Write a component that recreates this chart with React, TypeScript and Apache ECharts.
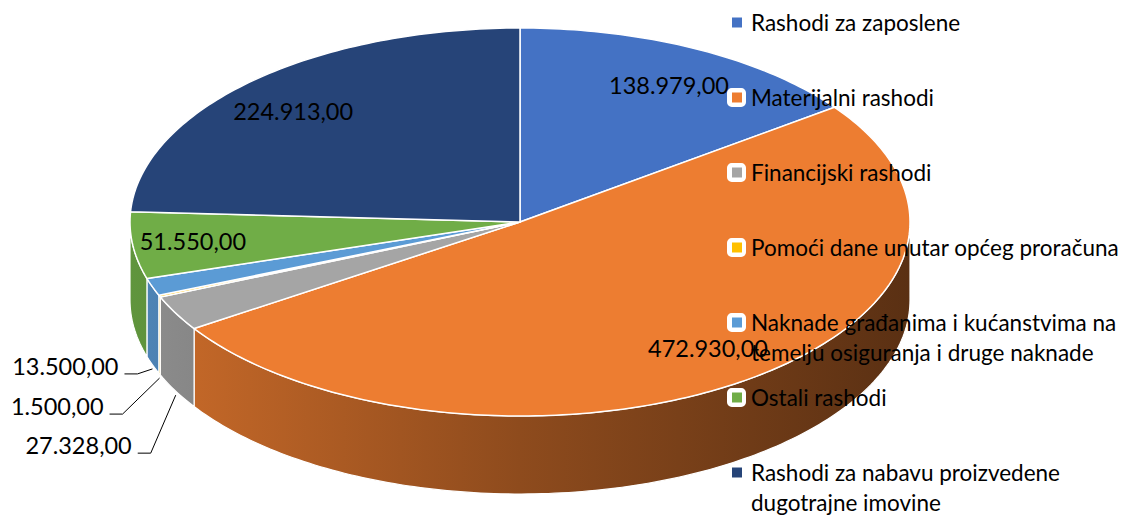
import React, { useEffect, useRef } from 'react';
import * as echarts from 'echarts';

// ---- data ----
const CATEGORIES = [
  'Rashodi za zaposlene',
  'Materijalni rashodi',
  'Financijski rashodi',
  'Pomoći dane unutar općeg proračuna',
  'Naknade građanima i kućanstvima na temelju osiguranja i druge naknade',
  'Ostali rashodi',
  'Rashodi za nabavu proizvedene dugotrajne imovine',
];
const VALUES = [138979, 472930, 27328, 1500, 13500, 51550, 224913];
const COLORS = ['#4472C4', '#ED7D31', '#A5A5A5', '#FFC000', '#5B9BD5', '#70AD47', '#264478'];
// legend display lines (wrapped as in the original)
const LEGEND_LINES = [
  ['Rashodi za zaposlene'],
  ['Materijalni rashodi'],
  ['Financijski rashodi'],
  ['Pomoći dane unutar općeg proračuna'],
  ['Naknade građanima i kućanstvima na', 'temelju osiguranja i druge naknade'],
  ['Ostali rashodi'],
  ['Rashodi za nabavu proizvedene', 'dugotrajne imovine'],
];

// ---- layout ----
const CX = 520, CY = 222, RX = 390, RY = 194, DEPTH = 78;
const LABEL_RX = 0.845, LABEL_RY = 0.79;
const SMALL_SHARE = 0.04;
// outside label placement relative to leader anchor [dx of text right edge, dy of text centre]
const OUTSIDE_OFFSETS: Record<number, [number, number]> = { 2: [-44, 50], 3: [-56, 28], 4: [-34, -3] };
const FONT = 'Lato, Carlito, Calibri, sans-serif';
const LEGEND_FONT = 22.5;
const LABEL_FONT = 23.5;
const LEGEND_Y0 = 22.5, LEGEND_STEP = 75, LINE_H = 30;

const TOTAL = VALUES.reduce((a, b) => a + b, 0);
const STARTS = VALUES.map((_, i) => VALUES.slice(0, i).reduce((a, b) => a + b, 0));

const fmt = (v: number) => v.toString().replace(/\B(?=(\d{3})+(?!\d))/g, '.') + ',00';

function shade(hex: string, f: number) {
  const n = parseInt(hex.slice(1), 16);
  const r = Math.round(((n >> 16) & 255) * f);
  const g = Math.round(((n >> 8) & 255) * f);
  const b = Math.round((n & 255) * f);
  return `rgb(${r},${g},${b})`;
}

function arcPts(a0: number, a1: number, dy: number) {
  const n = Math.max(1, Math.ceil(a1 - a0));
  const pts: number[][] = [];
  for (let k = 0; k <= n; k++) {
    const t = ((a0 + ((a1 - a0) * k) / n) * Math.PI) / 180;
    pts.push([CX + RX * Math.sin(t), CY - RY * Math.cos(t) + dy]);
  }
  return pts;
}

function sideRender(i: number) {
  return (_params: any, api: any) => {
    const a0 = (api.value(0) / TOTAL) * 360;
    const a1 = (api.value(1) / TOTAL) * 360;
    const lo = Math.max(a0, 90), hi = Math.min(a1, 270);
    if (hi <= lo) return { type: 'group', children: [] };
    const top = arcPts(lo, hi, 0);
    const bottom = arcPts(lo, hi, DEPTH).reverse();
    const fill = new echarts.graphic.LinearGradient(
      CX - RX, 0, CX + RX, 0,
      [
        { offset: 0, color: shade(COLORS[i], 0.86) },
        { offset: 0.5, color: shade(COLORS[i], 0.6) },
        { offset: 1, color: shade(COLORS[i], 0.38) },
      ],
      true
    );
    return {
      type: 'polygon',
      shape: { points: top.concat(bottom) },
      style: { fill, stroke: '#ffffff', lineWidth: 1.2, lineJoin: 'round' },
    };
  };
}

function topRender(i: number) {
  return (_params: any, api: any) => {
    const s = api.value(0), e = api.value(1), v = api.value(2);
    const a0 = (s / TOTAL) * 360, a1 = (e / TOTAL) * 360;
    const children: any[] = [
      {
        type: 'polygon',
        shape: { points: [[CX, CY], ...arcPts(a0, a1, 0)] },
        style: { fill: COLORS[i], stroke: '#ffffff', lineWidth: 1.5, lineJoin: 'round' },
      },
    ];
    const mid = (((a0 + a1) / 2) * Math.PI) / 180;
    const textStyle = { fill: '#000000', fontSize: LABEL_FONT, fontFamily: FONT };
    if ((e - s) / TOTAL >= SMALL_SHARE) {
      children.push({
        type: 'text',
        z2: 100,
        x: CX + LABEL_RX * RX * Math.sin(mid),
        y: CY - LABEL_RY * RY * Math.cos(mid),
        style: { ...textStyle, text: fmt(v), align: 'center', verticalAlign: 'middle' },
      });
    } else {
      const ax = CX + RX * Math.sin(mid);
      const ay = CY - RY * Math.cos(mid) + DEPTH + 4;
      const [dx, dy] = OUTSIDE_OFFSETS[i] || [-40, 30];
      const tx = ax + dx, ty = ay + dy;
      children.push({
        type: 'polyline',
        z2: 100,
        shape: { points: [[tx + 6, ty + 8], [tx + 19, ty + 8], [ax, ay]] },
        style: { stroke: '#000000', lineWidth: 1, fill: 'none' },
      });
      children.push({
        type: 'text',
        z2: 100,
        x: tx,
        y: ty,
        style: { ...textStyle, text: fmt(v), align: 'right', verticalAlign: 'middle' },
      });
    }
    return { type: 'group', children };
  };
}

export default function App() {
  const ref = useRef<HTMLDivElement>(null);
  useEffect(() => {
    if (!ref.current) return;
    const chart = echarts.init(ref.current, undefined, { renderer: 'svg' });
    const series: any[] = [];
    CATEGORIES.forEach((name, i) => {
      const datum = [[STARTS[i], STARTS[i] + VALUES[i], VALUES[i]]];
      series.push({
        type: 'custom', name, coordinateSystem: 'none', z: 1, silent: true,
        itemStyle: { color: COLORS[i] }, data: datum, renderItem: sideRender(i),
      });
      series.push({
        type: 'custom', name, coordinateSystem: 'none', z: 2, silent: true,
        itemStyle: { color: COLORS[i] }, data: datum, renderItem: topRender(i),
      });
    });
    const legends: any[] = [];
    CATEGORIES.forEach((name, i) => {
      const lines = LEGEND_LINES[i];
      const multi = lines.length > 1;
      const yc = LEGEND_Y0 + LEGEND_STEP * i;
      const top = multi ? yc - LINE_H * 1.5 : yc - LINE_H / 2;
      const common = {
        data: [name], top, orient: 'vertical', padding: 0, selectedMode: false,
        textStyle: { fontFamily: FONT, fontSize: LEGEND_FONT, lineHeight: LINE_H, color: '#000000', padding: [0, 0, 0, 4] },
      };
      // white rounded box behind the marker
      legends.push({
        ...common, left: 727, z: 4, icon: 'roundRect', itemWidth: 19, itemHeight: 19,
        itemStyle: { color: '#ffffff', borderWidth: 0 },
        formatter: () => (multi ? ' \n \n ' : ' '),
      });
      legends.push({
        ...common, left: 732, z: 5, icon: 'rect', itemWidth: 10, itemHeight: 10,
        itemStyle: { color: COLORS[i], borderWidth: 0 },
        formatter: () => (multi ? ' \n' + lines.join('\n') : lines[0]),
      });
    });
    chart.setOption({
      animation: false,
      backgroundColor: '#ffffff',
      legend: legends,
      series,
    });
    return () => chart.dispose();
  }, []);
  return <div ref={ref} style={{ position: 'fixed', left: 0, top: 0, width: 1128, height: 515 }} />;
}
